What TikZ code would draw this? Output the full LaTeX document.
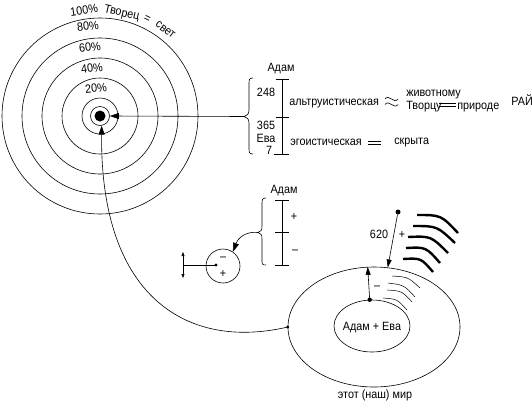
\documentclass[tikz,border=0pt]{standalone}
\usepackage{fontspec}
\setmainfont{Liberation Sans}[FakeStretch=0.9]
\usetikzlibrary{arrows.meta,shapes.geometric}
\begin{document}
\begin{tikzpicture}[x=1pt,y=-1pt,line width=0.6pt,
  lbl/.style={inner sep=0pt,text height=8.5pt,text depth=2pt,font=\fontsize{12}{14}\selectfont},
  arclbl/.style={inner sep=0pt,text height=8.5pt,text depth=0pt,font=\fontsize{12}{14}\selectfont},
  ring/.style={draw,circle,inner sep=0pt},
  tri/.style={-{Triangle[length=9pt,width=6pt]}},
  stri/.style={-{Triangle[length=8pt,width=5pt]}},
  thickarc/.style={line width=2.4pt},
  thinarc/.style={line width=0.5pt},
  dbl/.style={line width=0.9pt},
  tick/.style={line width=0.6pt}]
\useasboundingbox (0,0) rectangle (532,402);

% concentric circles
\node[ring,minimum size=196pt] (r100) at (100,116) {};
\node[ring,minimum size=156pt] (r80) at (100,116) {};
\node[ring,minimum size=116pt] (r60) at (100,116) {};
\node[ring,minimum size=76pt] (r40) at (100,116) {};
\node[ring,minimum size=36pt] (r20) at (100,116) {};
\node[ring,minimum size=19pt] (core) at (100,116) {};
\node[circle,fill,inner sep=0pt,minimum size=11pt] (dot) at (100,116) {};

\node[arclbl,rotate=8] (p100) at (84,10) {100\%};
\node[arclbl,rotate=-13] (tvorec) at (122,12) {Творец};
\node[arclbl,rotate=-26] (eq) at (147.5,18.5) {=};
\node[arclbl,rotate=-37] (svet) at (166,29) {свет};
\node[lbl,rotate=7] (p80) at (88,27) {80\%};
\node[lbl,rotate=7] (p60) at (90,48) {60\%};
\node[lbl,rotate=7] (p40) at (92,69) {40\%};
\node[lbl,rotate=6] (p20) at (96,89) {20\%};

% first bracket
\node[lbl] (adam1) at (281,68) {Адам};
\draw (282,79) -- (282,154);
\draw[tick] (276,79) -- (289,79) (276,117) -- (289,117) (274,154) -- (289,154);
\draw (253,78) .. controls (249,78) and (249,80) .. (249,84) -- (249,110)
  .. controls (249,114) and (247,116) .. (244,116.5)
  .. controls (247,117) and (249,119) .. (249,123) -- (249,148)
  .. controls (249,152) and (249,154) .. (253,154);
\coordinate (bt1) at (244,116.5);
\draw[tri] (bt1) -- (core.east);
\node[lbl] (n248) at (266,93) {248};
\node[lbl] (n365) at (266,126) {365};
\node[lbl] (eva) at (266,139) {Ева};
\node[lbl] (n7) at (269,151) {7};
\node[lbl,anchor=west] (alt) at (289,102) {альтруистическая};
\draw (385,99) .. controls (389,93.5) and (394,104.5) .. (398,99);
\draw (385,104.5) .. controls (389,99) and (394,110) .. (398,104.5);
\node[lbl,anchor=west] (zhiv) at (406,93) {животному};
\node[lbl,anchor=west] (tvor) at (406,106) {Творцу};
\draw[dbl] (439,103.8) -- (456,103.8) (439,106.4) -- (456,106.4);
\node[lbl,anchor=west] (prir) at (457,106) {природе};
\node[lbl,anchor=west] (rai) at (511,102) {РАЙ};
\node[lbl,anchor=west] (ego) at (290,142) {эгоистическая};
\draw[dbl] (368,141.5) -- (381,141.5) (368,144.1) -- (381,144.1);
\node[lbl,anchor=west] (skr) at (394,141) {скрыта};

% second bracket
\node[lbl] (adam2) at (284,190) {Адам};
\draw (282,200) -- (282,265);
\draw[tick] (275,200) -- (289,200) (275,232) -- (289,232) (275,265) -- (289,265);
\node[lbl] (plus2) at (294,217) {+};
\node[lbl] (minus2) at (295,250) {–};
\draw (266,198) .. controls (262,198) and (262,200) .. (262,204) -- (262,226)
  .. controls (262,230) and (261,232) .. (258,232.5)
  .. controls (261,233) and (262,235) .. (262,239) -- (262,260)
  .. controls (262,264) and (262,265) .. (266,265);
\coordinate (bt2) at (258,232.5);
\node[ring,minimum size=34pt] (pm) at (223,266) {};
\node[lbl] (pmm) at (223,257) {–};
\node[lbl] (pmp) at (223,274) {+};
\draw[tri] (bt2) .. controls (246,231) and (238,238) .. (pm.55);
\coordinate (pmdot) at (216,265);
\fill (pmdot) circle (1.6);
\coordinate (dbl) at (183,265);
\draw (pmdot) -- (dbl);
\coordinate (du) at (183,252);
\coordinate (dd) at (183,278);
\draw[{Triangle[length=4pt,width=3pt]}-{Triangle[length=4pt,width=3pt]}] (du) -- (dd);

% this world
\node[draw,ellipse,minimum width=172pt,minimum height=120pt,inner sep=0pt] (world) at (374,327) {};
\node[draw,ellipse,minimum width=76pt,minimum height=52pt,inner sep=0pt] (ae) at (372,326) {};
\node[lbl] (aetext) at (372,327) {Адам + Ева};
\node[lbl] (mir) at (375,395) {этот (наш) мир};
\fill (ae.95) circle (2.2);
\draw[stri] (ae.95) -- (world.96);
\node[lbl] (wm) at (377,286) {–};
\node[circle,fill,inner sep=0pt,minimum size=5pt] (d620) at (398,212) {};
\draw[stri] (d620) -- (world.77);
\node[lbl] (n620) at (379,235) {620};
\node[lbl] (p620) at (402,235) {+};

% radiation arcs
\draw[thickarc] (417,215) .. controls (441,215) .. (458,233);
\draw[thickarc] (413,226) .. controls (437,226) .. (455,243);
\draw[thickarc] (408,237) .. controls (431,236) .. (448,253);
\draw[thickarc] (406,248) .. controls (426,247) .. (440,263);
\draw[thickarc] (403,259) .. controls (421,258) .. (433,272);
\draw[thinarc] (392,276) .. controls (408,277) .. (420,288);
\draw[thinarc] (388,283) .. controls (404,285) .. (415,297);
\draw[thinarc] (387,290) .. controls (402,291) .. (412,302);
\draw[thinarc] (383,298) .. controls (397,299) .. (407,310);

% long connector
\fill (world.west) circle (1.6);
\draw[tri] (world.west) .. controls (190,350) and (100,300) .. (core.-80);
\end{tikzpicture}
\end{document}
